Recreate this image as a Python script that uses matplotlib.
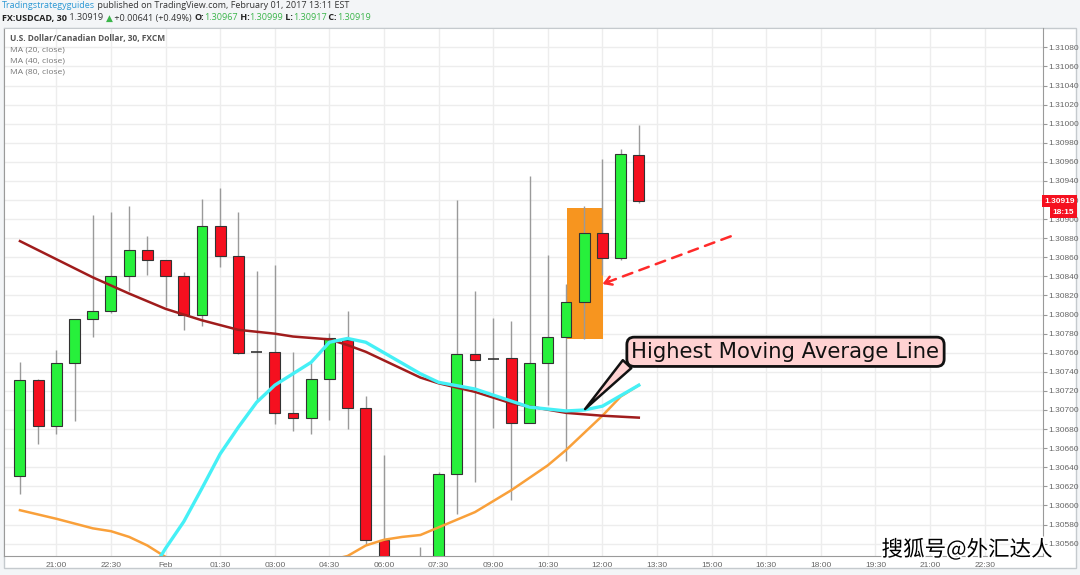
import matplotlib
matplotlib.use("Agg")
import matplotlib.pyplot as plt
import matplotlib.patheffects as pe
from matplotlib.patches import Rectangle

# 30 min candles, index 0 = 20:00 (Jan 31) ... index 34 = 13:00 (Feb 1)
opens  = [1.30631, 1.30731, 1.30683, 1.30749, 1.30795, 1.30804, 1.30840, 1.30868, 1.30857, 1.30840,
          1.30800, 1.30893, 1.30861, 1.30761, 1.30761, 1.30697, 1.30692, 1.30733, 1.30773, 1.30702,
          1.30564, 1.30520, 1.30505, 1.30530, 1.30633, 1.30759, 1.30753, 1.30754, 1.30686, 1.30749,
          1.30777, 1.30813, 1.30886, 1.30859, 1.30967]
closes = [1.30731, 1.30683, 1.30749, 1.30795, 1.30804, 1.30840, 1.30868, 1.30857, 1.30840, 1.30800,
          1.30893, 1.30861, 1.30760, 1.30761, 1.30697, 1.30692, 1.30733, 1.30775, 1.30702, 1.30564,
          1.30520, 1.30505, 1.30530, 1.30633, 1.30759, 1.30752, 1.30753, 1.30686, 1.30749, 1.30777,
          1.30813, 1.30886, 1.30859, 1.30968, 1.30919]
highs  = [1.30750, 1.30733, 1.30763, 1.30795, 1.30904, 1.30907, 1.30914, 1.30882, 1.30857, 1.30845,
          1.30921, 1.30933, 1.30907, 1.30846, 1.30852, 1.30761, 1.30749, 1.30781, 1.30804, 1.30715,
          1.30653, 1.30535, 1.30556, 1.30635, 1.30920, 1.30825, 1.30796, 1.30793, 1.30945, 1.30862,
          1.30832, 1.30914, 1.30963, 1.30973, 1.30999]
lows   = [1.30612, 1.30664, 1.30675, 1.30688, 1.30777, 1.30802, 1.30825, 1.30841, 1.30808, 1.30784,
          1.30788, 1.30850, 1.30759, 1.30709, 1.30685, 1.30678, 1.30675, 1.30690, 1.30680, 1.30560,
          1.30505, 1.30490, 1.30495, 1.30520, 1.30591, 1.30625, 1.30681, 1.30606, 1.30686, 1.30705,
          1.30647, 1.30774, 1.30841, 1.30857, 1.30917]

# moving averages (index, value)
ma_red_x = [0, 2, 4, 6, 8, 10, 12, 14, 15, 17, 18, 19, 22, 23, 25, 27, 30, 32, 34]
ma_red_y = [1.30877, 1.30858, 1.30839, 1.30822, 1.30806, 1.30794, 1.30784, 1.30780, 1.30777, 1.30774,
            1.30768, 1.30761, 1.30734, 1.30728, 1.30719, 1.30707, 1.30697, 1.30694, 1.30692]
ma_cyan_x = [7, 8, 9, 10, 11, 12, 13, 14, 16, 17, 18, 19, 22, 23, 25, 28, 30, 31, 32, 34]
ma_cyan_y = [1.30524, 1.30555, 1.30583, 1.30618, 1.30654, 1.30682, 1.30708, 1.30726, 1.30750, 1.30771,
             1.30775, 1.30771, 1.30738, 1.30729, 1.30722, 1.30703, 1.30699, 1.30700, 1.30704, 1.30726]
ma_orange_x = [0, 2, 4, 5, 6, 7, 8, 10, 12, 14, 16, 18, 19, 20, 21, 22, 23, 25, 27, 29, 30, 32, 33, 34]
ma_orange_y = [1.30595, 1.30586, 1.30576, 1.30573, 1.30567, 1.30558, 1.30546, 1.30535, 1.30530, 1.30532,
               1.30538, 1.30547, 1.30558, 1.30564, 1.30567, 1.30569, 1.30577, 1.30593, 1.30616, 1.30642,
               1.30658, 1.30694, 1.30714, 1.30726]

time_ticks = list(range(2, 54, 3))
time_labels = ["21:00", "22:30", "Feb", "01:30", "03:00", "04:30", "06:00", "07:30", "09:00",
               "10:30", "12:00", "13:30", "15:00", "16:30", "18:00", "19:30", "21:00", "22:30"]
price_ticks = [round(1.30560 + 0.0002 * k, 5) for k in range(27)]

AXF = "Liberation Sans"
TXF = "Open Sans"

W, H = 1080, 575
fig = plt.figure(figsize=(W / 100, H / 100), dpi=100, facecolor="#F3F5F7")
fig.patches.append(Rectangle((4 / W, 1 - 568 / H), 1072 / W, 540 / H, transform=fig.transFigure,
                             fc="white", ec="#C5CACE", lw=1, zorder=-5))
ax = fig.add_axes([4.3 / W, 1 - 556 / H, 1038.2 / W, 527.7 / H])
ax.set_facecolor("white")
ax.set_xlim(-0.86, 56.18)
ax.set_ylim(1.30547, 1.31100)

ax.set_xticks(time_ticks)
ax.set_xticklabels(time_labels, family=AXF)
ax.set_yticks(price_ticks)
ax.set_yticklabels([f"{p:.5f}" for p in price_ticks], family=AXF)
ax.yaxis.tick_right()
ax.tick_params(axis="y", labelsize=6, labelcolor="#666", length=3, color="#999", pad=1.5)
ax.tick_params(axis="x", labelsize=6, labelcolor="#666", length=0, pad=4)
ax.grid(True, color="#EDEDED", lw=1)
ax.set_axisbelow(True)
for s in ax.spines.values():
    s.set_color("#9A9A9A")
ax.spines["top"].set_color("#C5CACE")

# highlight box behind the breakout candle
ax.add_patch(Rectangle((30.07, 1.30774), 1.98, 1.30912 - 1.30774, fc="#F7951F", ec="none", zorder=1))

# moving averages
ax.plot(ma_orange_x, ma_orange_y, color="#F9A03A", lw=1.8, zorder=4)
ax.plot(ma_red_x, ma_red_y, color="#A01C1C", lw=1.8, zorder=4)
ax.plot(ma_cyan_x, ma_cyan_y, color="#45F0F6", lw=2.4, zorder=4)

# candles
for i in range(len(opens)):
    o, c = opens[i], closes[i]
    ax.vlines(i, lows[i], highs[i], color="#9A9A9A", lw=1, zorder=2)
    if abs(c - o) < 0.00002:
        ax.hlines((o + c) / 2, i - 0.3, i + 0.3, color="#333333", lw=1.2, zorder=3)
        continue
    col = "#27F03B" if c > o else "#F5101F"
    ax.bar(i, abs(c - o), bottom=min(o, c), width=0.6, color=col, edgecolor="#333333", lw=0.8, zorder=3)

# red dashed arrow
tip = (32.0, 1.30832)
ax.annotate("", xy=tip, xytext=(39.05, 1.30882),
            arrowprops=dict(arrowstyle="-", ls=(0, (4, 3)), color="#FF2A2A", lw=1.8, shrinkA=0, shrinkB=0), zorder=6)
ax.annotate("", xy=tip, xytext=(32.41, 1.30835),
            arrowprops=dict(arrowstyle="->,head_length=0.5,head_width=0.3", color="#FF2A2A", lw=1.8,
                            shrinkA=0, shrinkB=0), zorder=6)

# callout
ax.annotate("Highest Moving Average Line", xy=(31.05, 1.30701), xytext=(42.06, 1.30761),
            ha="center", va="center", fontsize=15.2, color="#111", zorder=7,
            bbox=dict(boxstyle="round,pad=0.22,rounding_size=0.35", fc="#FFD2D2", ec="#111", lw=2),
            arrowprops=dict(arrowstyle="wedge,tail_width=0.55", fc="#FFD2D2", ec="#111", lw=1.8,
                            relpos=(0.0, 0.12), shrinkA=0, shrinkB=0))

# last price labels
ytr = ax.get_yaxis_transform()
ax.text(1.0015, 1.30919, "1.30919", transform=ytr, ha="left", va="center", fontsize=6, color="white",
        family=AXF, fontweight="bold", bbox=dict(boxstyle="square,pad=0.3", fc="#F5101F", ec="none"),
        zorder=8, clip_on=False)
ax.text(1.0305, 1.30907, "18:15", transform=ytr, ha="right", va="center", fontsize=6, color="white",
        family=AXF, fontweight="bold", bbox=dict(boxstyle="square,pad=0.3", fc="#F5101F", ec="none"),
        zorder=8, clip_on=False)

# legend texts inside chart
ax.text(10 / W, 1 - 38 / H, "U.S. Dollar/Canadian Dollar, 30, FXCM", transform=fig.transFigure,
        fontsize=6.0, color="#555", fontweight="bold", family=TXF, va="center")
for k, lab in enumerate(["MA (20, close)", "MA (40, close)", "MA (80, close)"]):
    ax.text(10 / W, 1 - (50 + 11 * k) / H, lab, transform=fig.transFigure, fontsize=6.1, color="#777",
            family=TXF, va="center")

# header
renderer = fig.canvas.get_renderer()


def chain(parts, x, y, size):
    for s, col, wt in parts:
        t = fig.text(x / W, 1 - y / H, s, color=col, fontweight=wt, fontsize=size, va="center",
                     family=[TXF, "DejaVu Sans"])
        x += t.get_window_extent(renderer=renderer).width


green = "#3BB54A"
chain([("Tradingstrategyguides", "#2C98D4", "normal"),
       (" published on TradingView.com, February 01, 2017 13:11 EST", "#333", "normal")], 2, 6, 6.5)
chain([("FX:USDCAD, 30", "#222", "bold"), (" 1.30919 ", "#333", "normal"), ("▲", green, "normal"),
       (" +0.00641 (+0.49%) ", "#333", "normal"), ("O:", "#222", "bold"), ("1.30967", green, "normal"),
       (" H:", "#222", "bold"), ("1.30999", green, "normal"), (" L:", "#222", "bold"),
       ("1.30917", green, "normal"), (" C:", "#222", "bold"), ("1.30919", green, "normal")], 2, 18, 6.5)

# watermark
fig.text(967 / W, 1 - 550 / H, "搜狐号@外汇达人", family=["Noto Sans CJK SC", "DejaVu Sans"], fontsize=15.5,
         color="black", ha="center", va="center", zorder=10,
         path_effects=[pe.withStroke(linewidth=2.5, foreground="white")])

fig.savefig("out.png", dpi=100, facecolor=fig.get_facecolor())
